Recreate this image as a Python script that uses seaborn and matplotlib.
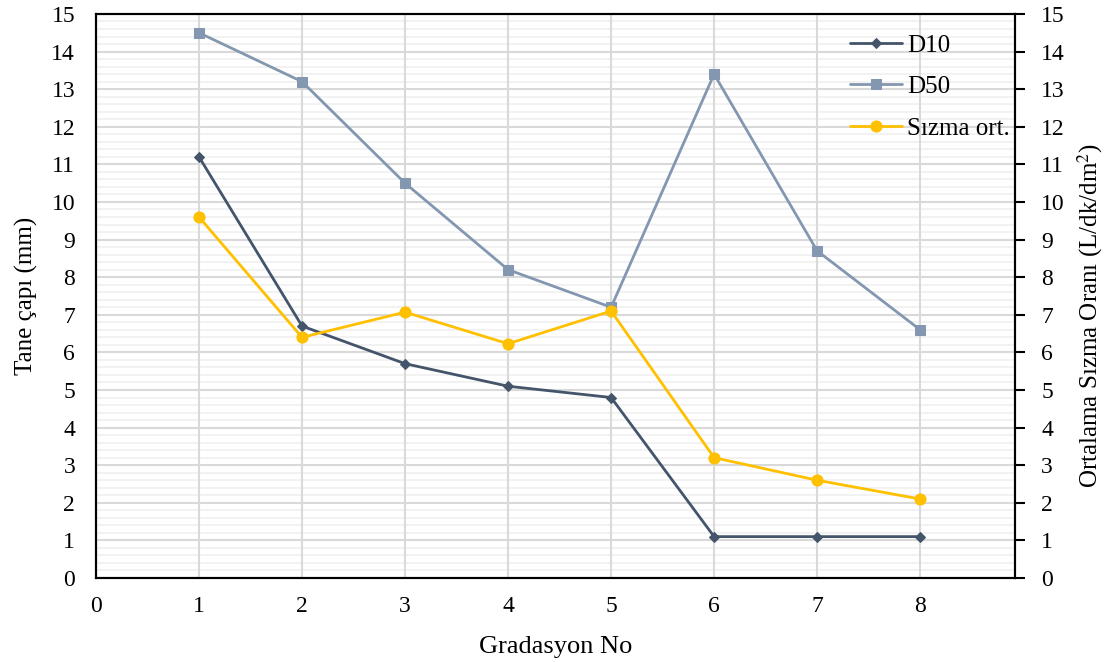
import numpy as np
import pandas as pd
import matplotlib
matplotlib.use("Agg")
import matplotlib.pyplot as plt
import seaborn as sns
from matplotlib.ticker import MultipleLocator

# Data
gradasyon = [1, 2, 3, 4, 5, 6, 7, 8]
d10 = [11.2, 6.7, 5.7, 5.1, 4.8, 1.1, 1.1, 1.1]
d50 = [14.5, 13.2, 10.5, 8.2, 7.2, 13.4, 8.7, 6.6]
sizma = [9.6, 6.4, 7.07, 6.23, 7.1, 3.2, 2.6, 2.1]

df = pd.DataFrame({"Gradasyon": gradasyon, "D10": d10, "D50": d50, "Sizma": sizma})

sns.set_style("white")
plt.rcParams["font.family"] = ["Liberation Serif", "DejaVu Serif"]
plt.rcParams["mathtext.fontset"] = "stix"
plt.rcParams["text.color"] = "black"
plt.rcParams["axes.labelcolor"] = "black"
plt.rcParams["xtick.color"] = "black"
plt.rcParams["ytick.color"] = "black"

fig = plt.figure(figsize=(11.2, 6.62), dpi=100)
ax = fig.add_axes([0.0857, 0.1269, 0.8205, 0.852])
ax2 = ax.twinx()

sns.lineplot(data=df, x="Gradasyon", y="D10", ax=ax, color="#44546A", marker="D",
             markersize=5, markeredgecolor="#44546A", linewidth=2, label="D10", legend=False)
sns.lineplot(data=df, x="Gradasyon", y="D50", ax=ax, color="#8497B0", marker="s",
             markersize=7, markeredgecolor="#8497B0", linewidth=2, label="D50", legend=False)
sns.lineplot(data=df, x="Gradasyon", y="Sizma", ax=ax2, color="#FFC000", marker="o",
             markersize=8, markeredgecolor="#FFC000", linewidth=2, label="Sızma ort.", legend=False)

for a in (ax, ax2):
    a.set_ylim(0, 15)
    a.yaxis.set_major_locator(MultipleLocator(1))
    a.yaxis.set_minor_locator(MultipleLocator(0.2))
ax.set_xlim(0, 8.92)
ax.xaxis.set_major_locator(MultipleLocator(1))

ax.grid(True, which="major", axis="both", color="#D9D9D9", linewidth=1.5)
ax.grid(True, which="minor", axis="y", color="#F0F0F0", linewidth=1.2)
ax.set_axisbelow(True)
# keep the vertical grid lines on top of the horizontal minor lines
ax.yaxis.set_zorder(0.3)

for a in (ax, ax2):
    for s in a.spines.values():
        s.set_color("black")
        s.set_linewidth(1.5)

ax.tick_params(axis="x", which="both", length=0, labelsize=17, pad=13)
ax.tick_params(axis="y", which="both", length=0, labelsize=17, pad=15)
ax2.tick_params(axis="y", which="major", length=7, width=1.5, direction="out",
                labelsize=17, pad=12)
ax2.tick_params(axis="y", which="minor", length=0)

ax.set_xlabel("Gradasyon No", fontsize=19, labelpad=14)
ax.set_ylabel("Tane çapı (mm)", fontsize=18, labelpad=10)
ax2.set_ylabel("Ortalama Sızma Oranı (L/dk/dm$^2$)", fontsize=18)
ax2.yaxis.set_label_coords(1.066, 0.465)

h1, l1 = ax.get_legend_handles_labels()
h2, l2 = ax2.get_legend_handles_labels()
ax2.legend(h1 + h2, l1 + l2, loc="upper right", bbox_to_anchor=(1.0, 0.973),
           frameon=False, fontsize=18, handlelength=2.1, labelspacing=0.76,
           borderaxespad=0, borderpad=0.2, handletextpad=0.2)

fig.savefig("out.png", dpi=100)
